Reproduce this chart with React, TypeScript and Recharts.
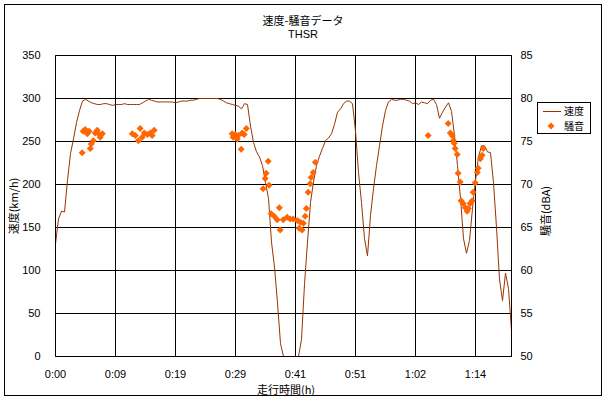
import React from 'react';
import { ComposedChart, Line, Scatter, XAxis, YAxis, CartesianGrid } from 'recharts';

// 速度 (km/h) at each sample index
const speed = [
  131, 160, 169, 168, 205, 236, 253, 272, 286, 297,
  299, 297, 295, 294, 293, 293, 294, 294, 293, 292,
  293, 293, 293, 294, 293, 293, 293, 293, 293, 295,
  297, 299, 298, 297, 296, 296, 296, 296, 296, 296,
  295, 296, 297, 297, 297, 298, 298, 299, 300, 300,
  300, 300, 300, 300, 300, 299, 297, 295, 294, 293,
  292, 291, 288, 294, 293, 268, 249, 238, 232, 222,
  202, 184, 133, 104, 62, 15, 0, 0, 0, 0,
  0, 0, 20, 84, 133, 179, 203, 222, 233, 242,
  251, 254, 259, 270, 284, 288, 294, 297, 297, 294,
  262, 214, 179, 137, 117, 164, 195, 222, 245, 268,
  286, 296, 299, 298, 298, 299, 299, 298, 297, 294,
  295, 293, 296, 295, 294, 298, 299, 293, 277, 284,
  290, 295, 285, 257, 222, 184, 137, 120, 135, 172,
  205, 232, 245, 245, 238, 237, 202, 150, 90, 65,
  97, 79, 30,
];

// 騒音 (dBA) samples: position on the time index and level
const noiseIdx = [
  8.9, 9.2, 9.9, 10.6, 11.2, 11.9, 11.6, 12.6, 13.2, 13.9, 14.6, 14.9, 15.6,
  25.6, 26.6, 27.6, 28.2, 28.9, 29.6, 30.6, 31.6, 32.2, 32.9,
  58.9, 59.2, 59.9, 60.6, 60.9, 61.9, 62.2, 62.9, 63.6,
  70.9, 70.2, 69.9, 69.2, 71.2, 71.9, 72.9, 73.9, 74.6, 74.9, 75.9, 77.2, 78.2,
  79.2, 80.6, 81.6, 81.2, 82.2, 82.6, 83.2, 83.6, 84.2, 84.9, 85.2, 85.9, 86.6,
  124.2, 130.9, 131.6, 132.2, 132.6, 132.9, 133.2, 133.9, 134.2, 134.9, 135.2, 135.9,
  136.6, 137.2, 137.6, 138.2, 138.9, 139.2, 139.9, 140.6, 140.9, 141.6, 142.2, 142.6,
];
const noiseDb = [
  73.7, 76.2, 76.4, 75.9, 76.2, 74.7, 74.2, 75.1, 76.0, 76.3, 75.8, 75.5, 75.9,
  75.9, 75.7, 75.1, 76.5, 75.5, 76.0, 75.8, 76.0, 75.7, 76.3,
  75.9, 75.5, 75.8, 75.3, 75.7, 74.1, 76.0, 75.8, 76.5,
  72.7, 71.3, 70.7, 69.5, 69.9, 66.6, 66.3, 65.9, 67.3, 64.7, 65.9, 66.2, 66.0,
  66.0, 65.8, 65.6, 64.9, 64.7, 65.5, 66.3, 67.2, 69.1, 70.1, 70.8, 71.4, 72.6,
  75.7, 77.1, 76.0, 75.7, 75.1, 74.8, 74.2, 73.5, 71.3, 70.3, 68.1, 67.8,
  67.3, 66.9, 67.2, 67.8, 68.1, 69.1, 70.2, 71.4, 71.9, 73.0, 73.4, 74.2,
];

const timeLabels = ['0:00', '0:09', '0:19', '0:29', '0:41', '0:51', '1:02', '1:14'];
const timeTicks = [0, 20, 40, 60, 80, 100, 120, 140];
const speedTicks = [0, 50, 100, 150, 200, 250, 300, 350];
const noiseTicks = [50, 55, 60, 65, 70, 75, 80, 85];

const NUM_FONT = "'Liberation Sans Narrow', 'Liberation Sans', Arial, sans-serif";
const JP_FONT = "'Noto Sans CJK JP', 'Liberation Sans Narrow', sans-serif";

const speedData = speed.map((v, i) => ({ i, speed: v }));
const noiseData = noiseIdx.map((t, k) => ({ i: t, db: noiseDb[k] }));

const Diamond = (props: any) => {
  const { cx, cy } = props;
  const r = 3.5;
  return (
    <polygon
      points={`${cx},${cy - r} ${cx + r},${cy} ${cx},${cy + r} ${cx - r},${cy}`}
      fill="#FF6600"
    />
  );
};

const tickStyle = { fill: '#000', fontSize: 11, fontFamily: NUM_FONT };

export default function App() {
  return (
    <div style={{ position: 'absolute', left: 0, top: 0, width: 606, height: 399, background: '#fff' }}>
      {/* outer frame */}
      <div style={{ position: 'absolute', left: 4, top: 4, width: 596, height: 390, border: '1px solid #000' }} />

      <ComposedChart
        width={606}
        height={399}
        data={speedData}
        margin={{ top: 55.5, right: 0, bottom: 0, left: 0 }}
        style={{ position: 'absolute', left: 0, top: 0 }}
      >
        <CartesianGrid stroke="#000" strokeWidth={1} yAxisId="left" />
        <XAxis
          dataKey="i"
          type="number"
          domain={[0, 152]}
          ticks={timeTicks}
          interval={0}
          tickFormatter={(v: number) => timeLabels[timeTicks.indexOf(v)]}
          height={42.5}
          axisLine={{ stroke: '#000' }}
          tickLine={false}
          tickSize={0}
          tickMargin={14}
          tick={tickStyle}
        />
        <YAxis
          yAxisId="left"
          domain={[0, 350]}
          ticks={speedTicks}
          interval={0}
          width={55.5}
          axisLine={{ stroke: '#000' }}
          tickLine={false}
          tickSize={0}
          tickMargin={15}
          tick={tickStyle}
        />
        <YAxis
          yAxisId="right"
          orientation="right"
          domain={[50, 85]}
          ticks={noiseTicks}
          interval={0}
          width={94.5}
          axisLine={{ stroke: '#000' }}
          tickLine={false}
          tickSize={0}
          tickMargin={9}
          tick={{ ...tickStyle, textAnchor: 'start' }}
        />
        <Line
          yAxisId="left"
          dataKey="speed"
          type="linear"
          stroke="#993300"
          strokeWidth={1}
          dot={false}
          isAnimationActive={false}
        />
        <Scatter
          yAxisId="right"
          data={noiseData}
          dataKey="db"
          shape={<Diamond />}
          isAnimationActive={false}
        />
      </ComposedChart>

      {/* titles */}
      <div style={{ position: 'absolute', left: 0, width: 606, top: 14, textAlign: 'center', fontFamily: JP_FONT, fontSize: 11, lineHeight: '13px', color: '#000' }}>
        速度-騒音データ
        <br />
        <span style={{ fontFamily: NUM_FONT }}>THSR</span>
      </div>
      <div style={{ position: 'absolute', left: 186, width: 200, top: 383, textAlign: 'center', fontFamily: JP_FONT, fontSize: 11, lineHeight: '12px' }}>
        走行時間(h)
      </div>
      <div style={{ position: 'absolute', left: 13 - 50, top: 206 - 7, width: 100, textAlign: 'center', fontFamily: JP_FONT, fontSize: 11, lineHeight: '14px', transform: 'rotate(-90deg)' }}>
        速度(km/h)
      </div>
      <div style={{ position: 'absolute', left: 545 - 50, top: 211 - 7, width: 100, textAlign: 'center', fontFamily: JP_FONT, fontSize: 11, lineHeight: '14px', transform: 'rotate(-90deg)' }}>
        騒音(dBA)
      </div>

      {/* legend */}
      <div style={{ position: 'absolute', left: 537, top: 102, width: 52, height: 30, border: '1px solid #000', background: '#fff', fontFamily: JP_FONT, fontSize: 10 }}>
        <div style={{ position: 'absolute', left: 5, top: 8, width: 18, height: 1, background: '#993300' }} />
        <div style={{ position: 'absolute', left: 26, top: 2, lineHeight: '12px' }}>速度</div>
        <svg style={{ position: 'absolute', left: 9, top: 19 }} width={8} height={8}>
          <polygon points="4,0.5 7.5,4 4,7.5 0.5,4" fill="#FF6600" />
        </svg>
        <div style={{ position: 'absolute', left: 26, top: 17, lineHeight: '12px' }}>騒音</div>
      </div>
    </div>
  );
}
